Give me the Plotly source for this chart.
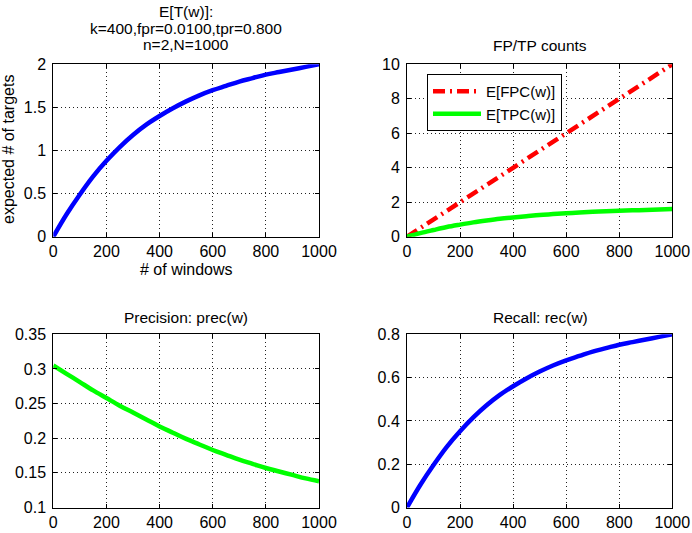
import plotly.graph_objects as go

# Number of windows examined
windows = [0, 50, 100, 150, 200, 250, 300, 350, 400, 450, 500,
           550, 600, 650, 700, 750, 800, 850, 900, 950, 1000]

# Expected number of targets found, E[T(w)]
expected_targets = [0.0, 0.26, 0.49, 0.70, 0.88, 1.04, 1.18, 1.30, 1.40, 1.49, 1.57,
                    1.64, 1.70, 1.75, 1.80, 1.84, 1.88, 1.91, 1.94, 1.97, 2.0]

# Expected false / true positive counts
fpc_windows = [0, 1000]
expected_fpc = [0.0, 10.0]
expected_tpc = [0.0, 0.21, 0.39, 0.56, 0.70, 0.83, 0.94, 1.04, 1.12, 1.19, 1.26,
                1.31, 1.36, 1.40, 1.44, 1.47, 1.50, 1.53, 1.55, 1.58, 1.60]

# Precision and recall
precision = [0.305, 0.293, 0.281, 0.269, 0.258, 0.247, 0.237, 0.227, 0.217, 0.208, 0.199,
             0.191, 0.183, 0.176, 0.169, 0.163, 0.157, 0.152, 0.147, 0.142, 0.138]
recall = [0.0, 0.104, 0.196, 0.28, 0.352, 0.416, 0.472, 0.52, 0.56, 0.596, 0.628,
          0.656, 0.68, 0.70, 0.72, 0.736, 0.752, 0.764, 0.776, 0.788, 0.80]

x_ticks = [0, 200, 400, 600, 800, 1000]
yt_targets = [0, 0.5, 1, 1.5, 2]
yt_counts = [0, 2, 4, 6, 8, 10]
yt_prec = [0.1, 0.15, 0.2, 0.25, 0.3, 0.35]
yt_recall = [0, 0.2, 0.4, 0.6, 0.8]

FONT = "Liberation Sans, Arial, Helvetica, sans-serif"
W, H = 692, 533


def px_x(v):
    return v / W


def px_y(v):
    return 1 - v / H


fig = go.Figure()

fig.add_trace(go.Scatter(x=windows, y=expected_targets, mode="lines", line_shape="spline",
                         line=dict(color="#0000ff", width=4.5), showlegend=False,
                         xaxis="x", yaxis="y"))
fig.add_trace(go.Scatter(x=fpc_windows, y=expected_fpc, mode="lines", name="E[FPC(w)]",
                         line=dict(color="#ff0000", width=4.5, dash="12px,5px,2px,5px"),
                         xaxis="x2", yaxis="y2"))
fig.add_trace(go.Scatter(x=windows, y=expected_tpc, mode="lines", name="E[TPC(w)]",
                         line_shape="spline",
                         line=dict(color="#00ff00", width=4.5),
                         xaxis="x2", yaxis="y2"))
fig.add_trace(go.Scatter(x=windows, y=precision, mode="lines", line_shape="spline",
                         line=dict(color="#00ff00", width=4.5), showlegend=False,
                         xaxis="x3", yaxis="y3"))
fig.add_trace(go.Scatter(x=windows, y=recall, mode="lines", line_shape="spline",
                         line=dict(color="#0000ff", width=4.5), showlegend=False,
                         xaxis="x4", yaxis="y4"))

axis_common = dict(
    showline=True, linecolor="black", linewidth=1, mirror="ticks",
    ticks="inside", ticklen=4, tickcolor="black", tickwidth=1,
    showgrid=True, gridcolor="#222222", gridwidth=1, griddash="1px,3px",
    zeroline=False, tickfont=dict(family=FONT, size=16, color="black"),
)

left_dom = [px_x(53.3), px_x(319)]
right_dom = [px_x(407), px_x(672.3)]
top_dom = [px_y(236.7), px_y(64.3)]
bot_dom = [px_y(507.5), px_y(334.3)]


def xa(dom, anchor):
    return dict(axis_common, domain=dom, anchor=anchor, range=[0, 1000],
                tickvals=x_ticks, ticktext=[str(v) for v in x_ticks])


def ya(dom, anchor, rng, vals, text):
    return dict(axis_common, domain=dom, anchor=anchor, range=rng,
                tickvals=vals, ticktext=text, ticklabelstandoff=3)


fig.update_layout(
    width=W, height=H,
    margin=dict(l=0, r=0, t=0, b=0, pad=0, autoexpand=False),
    paper_bgcolor="white", plot_bgcolor="white",
    font=dict(family=FONT, color="black"),
    xaxis=xa(left_dom, "y"),
    yaxis=ya(top_dom, "x", [0, 2], yt_targets, ["0", "0.5", "1", "1.5", "2"]),
    xaxis2=xa(right_dom, "y2"),
    yaxis2=ya(top_dom, "x2", [0, 10], yt_counts, [str(v) for v in yt_counts]),
    xaxis3=xa(left_dom, "y3"),
    yaxis3=ya(bot_dom, "x3", [0.1, 0.35], yt_prec,
              ["0.1", "0.15", "0.2", "0.25", "0.3", "0.35"]),
    xaxis4=xa(right_dom, "y4"),
    yaxis4=ya(bot_dom, "x4", [0, 0.8], yt_recall, ["0", "0.2", "0.4", "0.6", "0.8"]),
    legend=dict(x=px_x(427), y=px_y(74), xanchor="left", yanchor="top",
                bgcolor="white", bordercolor="black", borderwidth=1,
                font=dict(family=FONT, size=15, color="black"),
                itemwidth=48, tracegroupgap=0),
)


def label(text, x, y, size=15.5, angle=0):
    fig.add_annotation(text=text, x=px_x(x), y=px_y(y), xref="paper", yref="paper",
                       showarrow=False, xanchor="center", yanchor="middle",
                       textangle=angle, font=dict(family=FONT, size=size, color="black"))


# Subplot titles
label("E[T(w)]:", 186, 11)
label("k=400,fpr=0.0100,tpr=0.800", 186, 28.5)
label("n=2,N=1000", 186, 45)
label("FP/TP counts", 540, 46)
label("Precision: prec(w)", 186, 317.5)
label("Recall: rec(w)", 540, 317.5)

# Axis labels of the first panel
label("# of windows", 186, 269, size=16)
label("expected # of targets", 9, 150, size=16, angle=-90)

fig.write_html("out.html")
